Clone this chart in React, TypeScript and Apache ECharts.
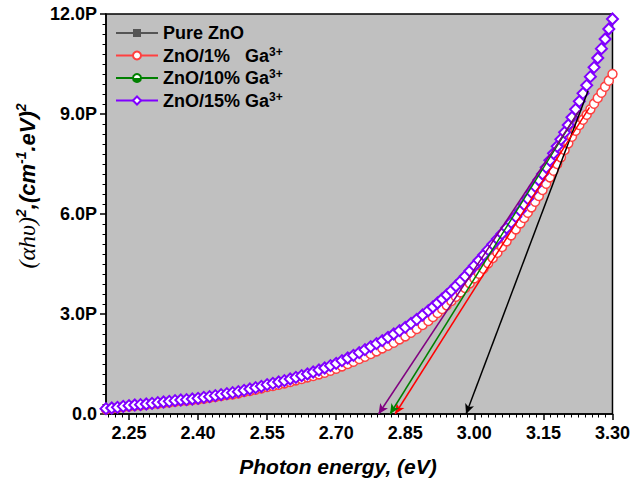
import { useEffect, useRef } from "react";
import * as echarts from "echarts";

// Photon energy (eV) — marker positions (denser toward the band edge)
const energy = [
  2.2, 2.2125, 2.225, 2.2375, 2.25, 2.2625, 2.275, 2.2875, 2.3, 2.3125,
  2.325, 2.3375, 2.35, 2.3625, 2.375, 2.3875, 2.4, 2.4125, 2.425, 2.4375,
  2.45, 2.4625, 2.475, 2.4875, 2.5, 2.5125, 2.525, 2.5375, 2.55, 2.5625,
  2.575, 2.5875, 2.6, 2.6125, 2.625, 2.6375, 2.65, 2.6625, 2.675, 2.6875,
  2.7, 2.7125, 2.725, 2.7375, 2.75, 2.7625, 2.775, 2.7875, 2.8, 2.8125,
  2.825, 2.8375, 2.85, 2.8625, 2.875, 2.8875, 2.9,
  2.91, 2.92, 2.93, 2.94, 2.95, 2.96, 2.97, 2.98, 2.99, 3.0,
  3.01, 3.02, 3.03, 3.04, 3.05, 3.06, 3.07, 3.08, 3.09, 3.1,
  3.108, 3.116, 3.124, 3.132, 3.14, 3.148, 3.156, 3.164, 3.172, 3.18,
  3.188, 3.196, 3.204, 3.212, 3.22, 3.228, 3.236, 3.244, 3.252, 3.26,
  3.268, 3.276, 3.284, 3.292, 3.3,
];

// (αhυ)² in units of P (1e15)
const ga15 = [
  0.16, 0.18, 0.2, 0.23, 0.25, 0.27, 0.28, 0.3, 0.32, 0.34,
  0.36, 0.38, 0.4, 0.42, 0.43, 0.45, 0.47, 0.5, 0.52, 0.55,
  0.58, 0.61, 0.64, 0.67, 0.71, 0.75, 0.79, 0.83, 0.88, 0.92,
  0.96, 1.0, 1.05, 1.1, 1.15, 1.2, 1.26, 1.32, 1.38, 1.45,
  1.52, 1.6, 1.68, 1.76, 1.84, 1.93, 2.02, 2.11, 2.2, 2.3,
  2.4, 2.5, 2.6, 2.72, 2.84, 2.97, 3.1,
  3.21, 3.33, 3.45, 3.57, 3.7, 3.84, 3.98, 4.13, 4.29, 4.45,
  4.61, 4.77, 4.93, 5.09, 5.25, 5.41, 5.58, 5.75, 5.92, 6.1,
  6.28, 6.46, 6.65, 6.83, 7.02, 7.2, 7.4, 7.61, 7.82, 8.03,
  8.24, 8.45, 8.67, 8.9, 9.14, 9.38, 9.62, 9.86, 10.12, 10.4,
  10.68, 10.96, 11.25, 11.55, 11.85,
];

// drawn beneath the 15% curve, indistinguishable from it in the picture
const ga10 = [
  0.16, 0.18, 0.2, 0.23, 0.25, 0.27, 0.28, 0.3, 0.32, 0.34,
  0.36, 0.38, 0.4, 0.42, 0.43, 0.45, 0.47, 0.5, 0.52, 0.55,
  0.58, 0.61, 0.64, 0.67, 0.71, 0.75, 0.79, 0.83, 0.88, 0.92,
  0.96, 1.0, 1.05, 1.1, 1.15, 1.2, 1.26, 1.32, 1.38, 1.45,
  1.52, 1.6, 1.68, 1.76, 1.84, 1.93, 2.02, 2.11, 2.2, 2.3,
  2.4, 2.5, 2.6, 2.72, 2.84, 2.97, 3.1,
  3.21, 3.33, 3.45, 3.57, 3.7, 3.84, 3.98, 4.13, 4.29, 4.45,
  4.61, 4.77, 4.93, 5.09, 5.25, 5.41, 5.58, 5.75, 5.92, 6.1,
  6.28, 6.46, 6.65, 6.83, 7.02, 7.2, 7.4, 7.61, 7.82, 8.03,
  8.24, 8.45, 8.67, 8.9, 9.14, 9.38, 9.62, 9.86, 10.12, 10.4,
  10.68, 10.96, 11.25, 11.55, 11.85,
];

const pureZnO = [
  0.16, 0.18, 0.2, 0.23, 0.25, 0.27, 0.28, 0.3, 0.32, 0.34,
  0.36, 0.38, 0.4, 0.42, 0.43, 0.45, 0.47, 0.5, 0.52, 0.55,
  0.58, 0.61, 0.64, 0.67, 0.71, 0.75, 0.79, 0.83, 0.88, 0.92,
  0.96, 1.0, 1.05, 1.1, 1.15, 1.2, 1.26, 1.32, 1.38, 1.45,
  1.52, 1.6, 1.68, 1.76, 1.84, 1.93, 2.02, 2.11, 2.2, 2.3,
  2.4, 2.5, 2.6, 2.72, 2.84, 2.97, 3.1,
  3.21, 3.33, 3.45, 3.57, 3.7, 3.84, 3.98, 4.13, 4.29, 4.45,
  4.61, 4.77, 4.93, 5.09, 5.25, 5.41, 5.58, 5.75, 5.92, 6.1,
  6.28, 6.46, 6.65, 6.83, 7.02, 7.2, 7.4, 7.61, 7.82, 8.03,
  8.24, 8.45, 8.67, 8.9, 9.14, 9.38, 9.62, 9.86, 10.12, 10.4,
  10.68, 10.96, 11.25, 11.55, 11.85,
];

const ga1 = [
  0.14, 0.16, 0.18, 0.21, 0.23, 0.25, 0.26, 0.28, 0.3, 0.31,
  0.33, 0.35, 0.37, 0.39, 0.4, 0.42, 0.44, 0.46, 0.49, 0.51,
  0.54, 0.57, 0.59, 0.62, 0.66, 0.69, 0.73, 0.77, 0.81, 0.84,
  0.88, 0.92, 0.96, 1.01, 1.05, 1.1, 1.14, 1.19, 1.24, 1.3,
  1.36, 1.43, 1.5, 1.57, 1.65, 1.72, 1.8, 1.88, 1.97, 2.05,
  2.14, 2.24, 2.33, 2.44, 2.55, 2.67, 2.79,
  2.91, 3.03, 3.15, 3.26, 3.39, 3.52, 3.65, 3.78, 3.92, 4.07,
  4.21, 4.36, 4.52, 4.68, 4.84, 5.01, 5.18, 5.36, 5.54, 5.72,
  5.88, 6.04, 6.2, 6.37, 6.54, 6.72, 6.91, 7.1, 7.3, 7.5,
  7.7, 7.92, 8.12, 8.32, 8.5, 8.67, 8.83, 8.98, 9.14, 9.31,
  9.48, 9.64, 9.82, 10.0, 10.2,
];

const seriesNames = ["Pure ZnO", "ZnO/1% Ga3+", "ZnO/10% Ga3+", "ZnO/15% Ga3+"];
const legendTexts = ["Pure ZnO", "ZnO/1%\u00a0\u00a0\u00a0Ga", "ZnO/10% Ga", "ZnO/15% Ga"];

const xMajorTicks = [2.25, 2.4, 2.55, 2.7, 2.85, 3.0, 3.15, 3.3];
const xMin = 2.2;
const xMax = 3.3;
const yMin = 0;
const yMax = 12;
const yInterval = 3;

// tangent (extrapolation) lines: [start, end(arrow)]
const tangentPure = [[3.247, 9.7], [2.982, 0]];
const tangent1 = [[3.25, 9.2], [2.828, 0]];
const tangent10 = [[3.225, 9.05], [2.817, 0]];
const tangent15 = [[3.228, 9.1], [2.792, 0]];

const FONT = "'Liberation Sans', Arial, sans-serif";

function pairs(ys: number[]) {
  return energy.map((x, i) => [x, ys[i]]);
}

function arrow(t: number[][], color: string) {
  return {
    silent: true,
    symbol: ["none", "arrow"],
    symbolSize: [7, 10],
    label: { show: false },
    lineStyle: { color, width: 1.5, type: "solid" },
    emphasis: { disabled: true },
    data: [[{ coord: t[0] }, { coord: t[1] }]],
    z: 10,
  };
}

export default function App() {
  const ref = useRef<HTMLDivElement>(null);
  useEffect(() => {
    if (!ref.current) return;
    const chart = echarts.init(ref.current, undefined, { renderer: "svg" });

    const minorTicks: number[] = [];
    for (let i = -3; i <= 70; i++) {
      if (i % 10 === 0) continue;
      const v = +(2.25 + i * 0.015).toFixed(3);
      if (v >= xMin && v <= xMax) minorTicks.push(v);
    }

    const greenFill = new echarts.graphic.LinearGradient(0, 0, 0, 1, [
      { offset: 0, color: "#ffffff" },
      { offset: 0.5, color: "#ffffff" },
      { offset: 0.5, color: "#008000" },
      { offset: 1, color: "#008000" },
    ]);

    const option: any = {
      animation: false,
      backgroundColor: "#ffffff",
      grid: {
        left: 106,
        right: 20,
        top: 14,
        bottom: 69,
        show: true,
        backgroundColor: "#c0c0c0",
        borderColor: "#000",
        borderWidth: 1.5,
      },
      legend: {
        orient: "vertical",
        left: 110,
        top: 19,
        itemWidth: 42,
        itemHeight: 10,
        itemGap: 3.5,
        selectedMode: false,
        data: seriesNames,
        formatter: (name: string) => {
          const i = seriesNames.indexOf(name);
          if (i === 0) return `{t|${legendTexts[0]}}`;
          return `{t|${legendTexts[i]}}{s|3+}`;
        },
        textStyle: {
          rich: {
            t: { fontFamily: FONT, fontSize: 18, fontWeight: "bold", color: "#000", lineHeight: 20, verticalAlign: "middle" },
            s: { fontFamily: FONT, fontSize: 12, fontWeight: "bold", color: "#000", lineHeight: 8, verticalAlign: "top" },
          },
        },
      },
      xAxis: [
        {
          type: "value",
          min: xMin,
          max: xMax,
          axisLine: { show: true, onZero: false, lineStyle: { color: "#000", width: 1.5 } },
          axisTick: { show: true, customValues: xMajorTicks, length: 6, lineStyle: { color: "#000", width: 1.5 } },
          axisLabel: {
            customValues: xMajorTicks,
            formatter: (v: number) => v.toFixed(2),
            fontFamily: FONT,
            fontSize: 18,
            fontWeight: "bold",
            color: "#000",
            margin: 10,
          },
          splitLine: { show: false },
        },
        {
          type: "value",
          min: xMin,
          max: xMax,
          position: "bottom",
          axisLine: { show: false },
          axisTick: { show: true, customValues: minorTicks, length: 3.5, lineStyle: { color: "#000", width: 1 } },
          axisLabel: { show: false },
          splitLine: { show: false },
        },
      ],
      yAxis: {
        type: "value",
        min: yMin,
        max: yMax,
        interval: yInterval,
        axisLine: { show: true, onZero: false, lineStyle: { color: "#000", width: 1.5 } },
        axisTick: { show: true, length: 6, lineStyle: { color: "#000", width: 1.5 } },
        minorTick: { show: true, splitNumber: 10, length: 3.5, lineStyle: { color: "#000", width: 1 } },
        axisLabel: {
          formatter: (v: number) => (v === 0 ? "0.0" : v.toFixed(1) + "P"),
          fontFamily: FONT,
          fontSize: 18,
          fontWeight: "bold",
          color: "#000",
          margin: 9,
        },
        splitLine: { show: false },
      },
      graphic: [
        {
          type: "text",
          x: 338,
          y: 466,
          style: {
            text: "Photon energy, (eV)",
            font: `italic bold 21px ${FONT}`,
            fill: "#000",
            align: "center",
            verticalAlign: "middle",
          },
        },
        {
          type: "text",
          x: 27,
          y: 186,
          rotation: Math.PI / 2,
          style: {
            text: "{a|(αhυ)}{s|2}{b|,(cm}{s|-1}{b|.eV)}{s|2}",
            align: "center",
            verticalAlign: "middle",
            rich: {
              a: { fontFamily: "'Liberation Serif', 'DejaVu Serif', serif", fontStyle: "italic", fontSize: 24, color: "#000", lineHeight: 26, verticalAlign: "middle" },
              b: { fontFamily: FONT, fontStyle: "italic", fontWeight: "bold", fontSize: 22, color: "#000", lineHeight: 26, verticalAlign: "middle" },
              s: { fontFamily: FONT, fontStyle: "italic", fontWeight: "bold", fontSize: 14, color: "#000", lineHeight: 10, verticalAlign: "top" },
            },
          },
        },
      ],
      series: [
        {
          name: seriesNames[0],
          type: "line",
          data: pairs(pureZnO),
          symbol: "rect",
          symbolSize: 6,
          lineStyle: { color: "#555555", width: 1.5 },
          itemStyle: { color: "#555555", borderColor: "#555555" },
          markLine: arrow(tangentPure, "#000000"),
        },
        {
          name: seriesNames[1],
          type: "line",
          data: pairs(ga1),
          symbol: "circle",
          symbolSize: 9,
          lineStyle: { color: "#ff4040", width: 1.5 },
          itemStyle: { color: "#ffffff", borderColor: "#ff4040", borderWidth: 1.5 },
          markLine: arrow(tangent1, "#ff0000"),
        },
        {
          name: seriesNames[2],
          type: "line",
          data: pairs(ga10),
          symbol: "circle",
          symbolSize: 7,
          lineStyle: { color: "#008000", width: 1.5 },
          itemStyle: { color: greenFill, borderColor: "#008000", borderWidth: 1.2 },
          markLine: arrow(tangent10, "#008000"),
        },
        {
          name: seriesNames[3],
          type: "line",
          data: pairs(ga15),
          symbol: "diamond",
          symbolSize: 11,
          lineStyle: { color: "#8000ff", width: 2 },
          itemStyle: { color: "#ffffff", borderColor: "#8000ff", borderWidth: 2 },
          markLine: arrow(tangent15, "#800080"),
        },
      ],
    };
    chart.setOption(option);
    return () => chart.dispose();
  }, []);
  return (
    <div
      ref={ref}
      style={{ position: "fixed", left: 0, top: 0, width: 633, height: 483 }}
    />
  );
}
